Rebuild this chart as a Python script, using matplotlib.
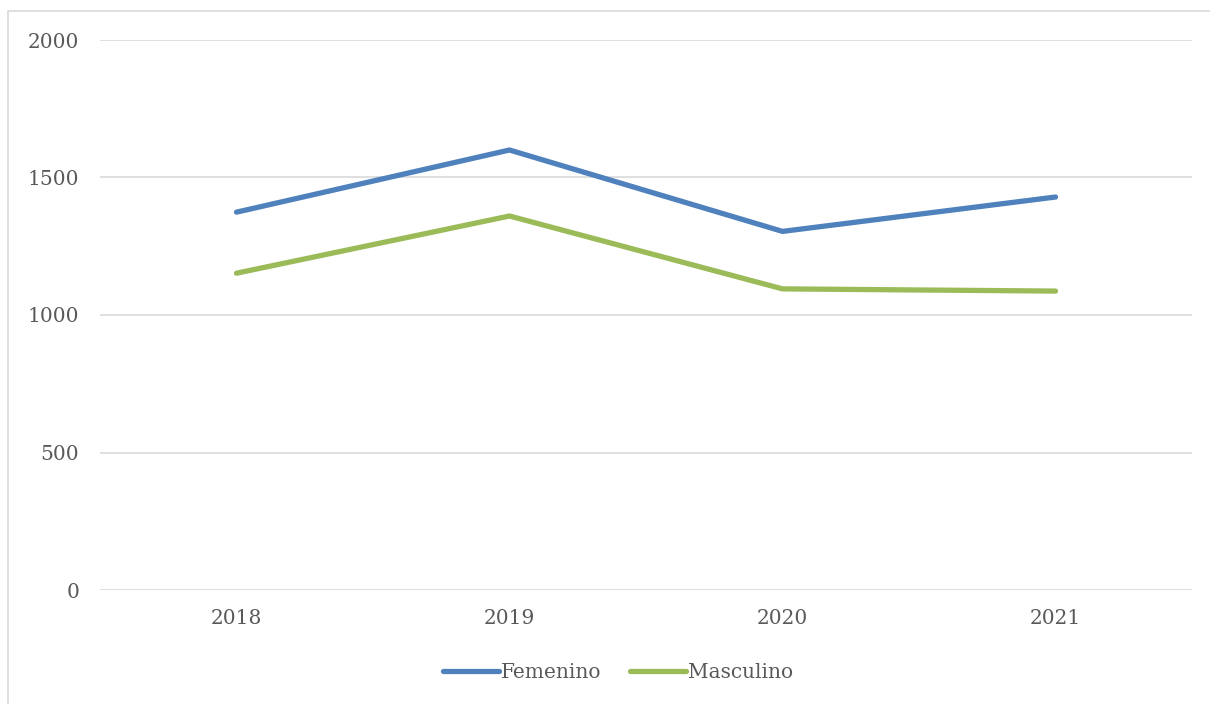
import matplotlib.pyplot as plt
from matplotlib.patches import Rectangle

years = ['2018', '2019', '2020', '2021']
femenino = [1374, 1600, 1304, 1429]
masculino = [1152, 1360, 1095, 1087]

plt.rcParams['font.family'] = 'DejaVu Serif'

fig = plt.figure(figsize=(12.1, 7.04), dpi=100)
ax = fig.add_axes([100/1210, 1 - 590/704, 1092/1210, 550/704])

# outer chart frame
fig.patches.append(Rectangle((8/1210, -0.1), 1.2, 1 - 11/704 + 0.1, transform=fig.transFigure,
                             fill=False, edgecolor='#d9d9d9', linewidth=1.2))

x = range(len(years))
ax.plot(x, femenino, color='#4f81bd', linewidth=3.8, solid_capstyle='round', label='Femenino')
ax.plot(x, masculino, color='#9bbb59', linewidth=3.8, solid_capstyle='round', label='Masculino')

ax.set_xlim(-0.5, 3.5)
ax.set_ylim(0, 2000)
ax.set_yticks([0, 500, 1000, 1500, 2000])
ax.set_xticks(list(x))
ax.set_xticklabels(years)
ax.grid(True, axis='y', color='#d9d9d9', linewidth=1.2)
ax.set_axisbelow(True)
for s in ax.spines.values():
    s.set_visible(False)
ax.tick_params(length=0, labelsize=14.5, colors='#595959')
ax.tick_params(axis='y', pad=15)
ax.tick_params(axis='x', pad=14)

leg = fig.legend(loc='center', bbox_to_anchor=(618/1210, 1 - 673/704), ncol=2, frameon=False,
                 fontsize=14.5, handlelength=2.75, handletextpad=0.1, columnspacing=1.45)
for t in leg.get_texts():
    t.set_color('#595959')

plt.savefig('out.png', dpi=100)
